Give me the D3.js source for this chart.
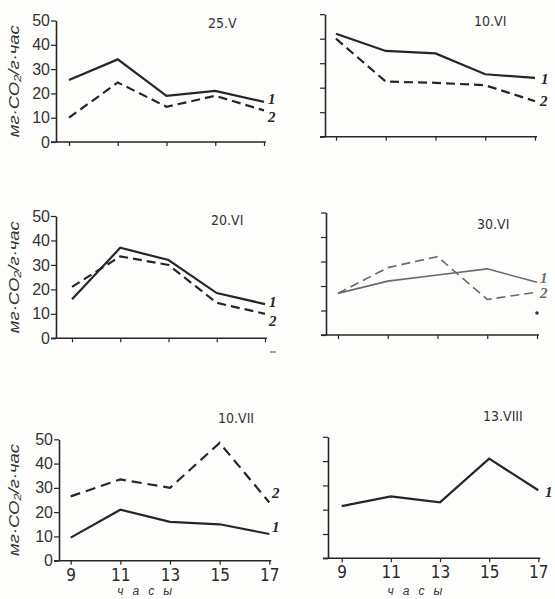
<!DOCTYPE html>
<html>
<head>
<meta charset="utf-8">
<script src="https://cdn.jsdelivr.net/npm/d3@7"></script>
<style>
  body { margin: 0; background: #fdfdfb; }
  svg { display: block; }
</style>
</head>
<body>
<script>
// hours of the day (x) and CO2 uptake, mg CO2 / g·h (y)
const hours = [9, 11, 13, 15, 17];
const yTicks = [0, 10, 20, 30, 40, 50];

const may25_1 = [25.5, 34, 19, 21, 16.5];
const may25_2 = [10, 24.5, 14.5, 19, 13];
const jun10_1 = [42, 35, 34, 25.5, 24];
const jun10_2 = [40, 22.5, 22, 21, 14.5];
const jun20_1 = [16, 37, 32, 18.5, 14];
const jun20_2 = [21, 33.5, 30, 14.5, 10];
const jun30_1 = [17, 22, 24.5, 27, 21.5];
const jun30_2 = [17, 27.5, 32, 14.5, 17.5];
const jul10_1 = [9.5, 21, 16, 15, 11];
const jul10_2 = [26.5, 33.5, 30, 48.5, 24];
const aug13_1 = [21.5, 25.5, 23, 41, 28];

const yLabel = "мг·СО₂/г·час";
const xLabel = "часы";

const width = 555;
const height = 599;

const svg = d3.select("body").append("svg")
    .attr("width", width)
    .attr("height", height);

// panel layout: axis x, x range (9..17), y range (0..50)
const panels = [
  { title: "25.V", tx: 208, ty: 28, ax: 56, xr: [69, 264], yr: [142, 20.5], left: true, bottom: false,
    series: [
      { v: may25_1, dash: null, lab: "1", lx: 268, ly: 104 },
      { v: may25_2, dash: "9,5", lab: "2", lx: 268, ly: 122 } ] },
  { title: "10.VI", tx: 474, ty: 26, ax: 325, xr: [336, 535], yr: [136.7, 14.2], left: false, bottom: false,
    series: [
      { v: jun10_1, dash: null, lab: "1", lx: 541, ly: 84 },
      { v: jun10_2, dash: "9,5", lab: "2", lx: 540, ly: 106 } ] },
  { title: "20.VI", tx: 211, ty: 225, ax: 56, xr: [72, 265], yr: [338.3, 216], left: true, bottom: false,
    series: [
      { v: jun20_1, dash: null, lab: "1", lx: 269, ly: 307 },
      { v: jun20_2, dash: "9,5", lab: "2", lx: 269, ly: 326 } ] },
  { title: "30.VI", tx: 477, ty: 229, ax: 326, xr: [338, 537], yr: [335, 212.5], left: false, bottom: false,
    faint: true,
    series: [
      { v: jun30_1, dash: null, lab: "1", lx: 540, ly: 283 },
      { v: jun30_2, dash: "9,5", lab: "2", lx: 540, ly: 298 } ] },
  { title: "10.VII", tx: 218, ty: 423, ax: 59, xr: [70.7, 269.3], yr: [560.7, 439.3], left: true, bottom: true,
    series: [
      { v: jul10_1, dash: null, lab: "1", lx: 272, ly: 532 },
      { v: jul10_2, dash: "10,6", lab: "2", lx: 272, ly: 498 } ] },
  { title: "13.VIII", tx: 483, ty: 421, ax: 328, xr: [341.7, 538.3], yr: [558.3, 436.8], left: false, bottom: true,
    series: [
      { v: aug13_1, dash: null, lab: "1", lx: 545, ly: 497 } ] }
];

const ink = "#262626";

panels.forEach(p => {
  const g = svg.append("g");
  const x = d3.scaleLinear().domain([9, 17]).range(p.xr);
  const y = d3.scaleLinear().domain([0, 50]).range(p.yr);
  const col = p.faint ? "#6a6a6a" : ink;

  // y axis
  const ya = g.append("g")
      .attr("transform", `translate(${p.ax},0)`)
      .call(d3.axisLeft(y).tickValues(yTicks).tickSize(5).tickSizeOuter(0).tickPadding(1)
        .tickFormat(p.left ? d3.format("d") : ""));
  ya.select(".domain").attr("stroke", ink).attr("stroke-width", 1.6);
  ya.selectAll(".tick line").attr("stroke", ink).attr("stroke-width", 1.2);
  ya.selectAll(".tick text")
      .attr("fill", "#333")
      .style("font-family", "'Liberation Sans', Arial, sans-serif")
      .style("font-size", "16px");

  // x axis
  g.append("line")
      .attr("x1", p.ax - 5).attr("x2", x(17) + 2)
      .attr("y1", y(0)).attr("y2", y(0))
      .attr("stroke", ink).attr("stroke-width", 1.6);
  const xa = g.append("g")
      .attr("transform", `translate(0,${y(0)})`)
      .call(d3.axisBottom(x).tickValues(hours).tickSize(4).tickPadding(4)
        .tickFormat(p.bottom ? d3.format("d") : ""));
  xa.select(".domain").remove();
  xa.selectAll(".tick line").attr("stroke", ink).attr("stroke-width", 1.2);
  xa.selectAll(".tick text")
      .attr("fill", "#2a2a2a")
      .style("font-family", "'Liberation Sans Narrow', 'DejaVu Sans Condensed', sans-serif")
      .style("font-stretch", "condensed")
      .style("font-size", "17px");

  // series
  const line = d3.line().x((d, i) => x(hours[i])).y(d => y(d));
  p.series.forEach(s => {
    g.append("path")
        .datum(s.v)
        .attr("d", line)
        .attr("fill", "none")
        .attr("stroke", col)
        .attr("stroke-width", p.faint ? 1.6 : 2.2)
        .attr("stroke-dasharray", s.dash);
    g.append("text")
        .attr("x", s.lx).attr("y", s.ly)
        .attr("fill", col)
        .style("font-family", "'Liberation Serif', serif")
        .style("font-style", "italic")
        .style("font-weight", "bold")
        .style("font-size", "15px")
        .text(s.lab);
  });

  g.append("text")
      .attr("x", p.tx).attr("y", p.ty)
      .attr("fill", "#333")
      .style("font-family", "'Liberation Sans Narrow', 'DejaVu Sans Condensed', sans-serif")
      .style("font-size", "14px")
      .text(p.title);

  if (p.left) {
    const cy = (y(0) + y(50)) / 2;
    g.append("text")
        .attr("transform", `translate(19,${cy}) rotate(-90)`)
        .attr("text-anchor", "middle")
        .attr("fill", "#333")
        .attr("textLength", 112)
        .attr("lengthAdjust", "spacingAndGlyphs")
        .style("font-family", "'Liberation Sans', Arial, sans-serif")
        .style("font-style", "italic")
        .style("font-size", "15px")
        .text(yLabel);
  }
  if (p.bottom) {
    g.append("text")
        .attr("x", (x(11) + x(13)) / 2 + 4).attr("y", 595)
        .attr("text-anchor", "middle")
        .attr("fill", "#333")
        .style("font-family", "'Liberation Sans', Arial, sans-serif")
        .style("font-style", "italic")
        .style("font-size", "12px")
        .style("letter-spacing", "9px")
        .text(xLabel);
  }
});

// small specks visible in the print
svg.append("circle").attr("cx", 537).attr("cy", 313).attr("r", 1.8).attr("fill", "#333");
svg.append("line").attr("x1", 270).attr("x2", 276).attr("y1", 352).attr("y2", 352)
    .attr("stroke", "#888").attr("stroke-width", 1.5);
</script>
</body>
</html>
